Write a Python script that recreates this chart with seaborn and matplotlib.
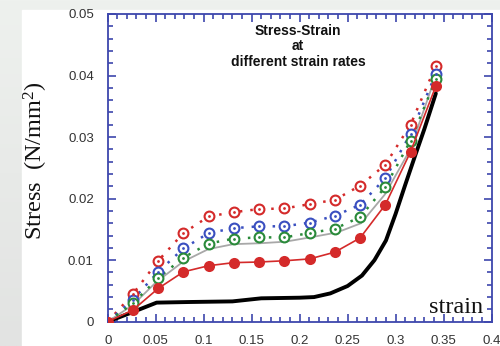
import numpy as np
import pandas as pd
import matplotlib
matplotlib.use("Agg")
import matplotlib.pyplot as plt
from matplotlib.patches import Rectangle
from matplotlib.ticker import MultipleLocator
import seaborn as sns

# Strain positions of the sampled points
strain = [0.0, 0.0263, 0.0526, 0.0789, 0.1052, 0.1315, 0.1578,
          0.1841, 0.2104, 0.2367, 0.263, 0.2893, 0.3156, 0.342]

# Stress (N/mm^2) for the four marked strain-rate series
stress_red_open = [0.0, 0.0045, 0.0099, 0.0144, 0.0171, 0.0178, 0.0183,
                   0.0184, 0.0191, 0.0198, 0.0221, 0.0255, 0.0320, 0.0416]
stress_blue_open = [0.0, 0.0036, 0.0081, 0.0119, 0.0144, 0.0152, 0.0155,
                    0.0155, 0.0161, 0.0172, 0.0190, 0.0233, 0.0305, 0.0403]
stress_green_open = [0.0, 0.0030, 0.0071, 0.0104, 0.0127, 0.0135, 0.0137,
                     0.0137, 0.0144, 0.0151, 0.0170, 0.0219, 0.0294, 0.0394]
stress_red_filled = [0.0, 0.0019, 0.0054, 0.0081, 0.0091, 0.0096, 0.0097,
                     0.0099, 0.0102, 0.0113, 0.0136, 0.0190, 0.0276, 0.0383]

# Unmarked curves
gray_strain = [0.0, 0.026, 0.051, 0.079, 0.105, 0.131, 0.159, 0.185,
               0.211, 0.239, 0.264, 0.289, 0.315, 0.338]
gray_stress = [0.0, 0.0027, 0.0065, 0.0098, 0.0118, 0.0126, 0.01275, 0.0130,
               0.0137, 0.0145, 0.0160, 0.0207, 0.0279, 0.0382]
black_strain = [0.0, 0.025, 0.051, 0.085, 0.13, 0.16, 0.2, 0.215, 0.232,
                0.25, 0.265, 0.278, 0.29, 0.30, 0.31, 0.32, 0.33, 0.342]
black_stress = [0.0, 0.0015, 0.0031, 0.0032, 0.0033, 0.0038, 0.0039, 0.0040,
                0.0046, 0.0058, 0.0075, 0.0100, 0.0132, 0.0175, 0.0222,
                0.0268, 0.0313, 0.0371]

x_ticks = [0, 0.05, 0.1, 0.15, 0.2, 0.25, 0.3, 0.35, 0.4]
x_tick_labels = ["0", "0.05", "0.1", "0.15", "0.2", "0.25", "0.3", "0.35", "0.4"]
y_ticks = [0, 0.01, 0.02, 0.03, 0.04, 0.05]
y_tick_labels = ["0", "0.01", "0.02", "0.03", "0.04", "0.05"]

sns.set_theme(style="white")
plt.rcParams["font.family"] = ["Liberation Sans", "DejaVu Sans"]
plt.rcParams["mathtext.fontset"] = "custom"
plt.rcParams["mathtext.rm"] = "Liberation Serif"
plt.rcParams["mathtext.it"] = "Liberation Serif:italic"

RED = "#d42a2a"
BLUE = "#3a4fc0"
GREEN = "#2a8a3a"
GRAY = "#a8a8a8"
AXIS_BLUE = "#3d47ad"

fig = plt.figure(figsize=(5.0, 3.46), dpi=100)

# Slide-like backdrop: soft gray gradient with a white panel
bg = fig.add_axes([0, 0, 1, 1], zorder=-10)
grad = np.linspace(0, 1, 256)[:, None] * np.ones((1, 2))
bg.imshow(grad, aspect="auto", cmap=matplotlib.colors.LinearSegmentedColormap.from_list(
    "bg", ["#eef1ee", "#e2e3e2"]), extent=[0, 1, 0, 1], origin="upper")
bg.add_patch(Rectangle((22 / 500, 0), 1, 1 - 10 / 346, color="white", zorder=2))
bg.set_xlim(0, 1)
bg.set_ylim(0, 1)
bg.axis("off")

ax = fig.add_axes([107.7 / 500, 1 - 321.7 / 346, 383.8 / 500, 307.7 / 346])
ax.set_facecolor("white")

df = pd.DataFrame({"strain": strain, "red_open": stress_red_open,
                   "blue_open": stress_blue_open, "green_open": stress_green_open,
                   "red_filled": stress_red_filled})
df_gray = pd.DataFrame({"strain": gray_strain, "stress": gray_stress})
df_black = pd.DataFrame({"strain": black_strain, "stress": black_stress})

sns.lineplot(data=df_black, x="strain", y="stress", ax=ax, color="black",
             linewidth=2.8, sort=False, zorder=3)
sns.lineplot(data=df_gray, x="strain", y="stress", ax=ax, color=GRAY,
             linewidth=1.3, sort=False, zorder=3)

dotted = (0, (1.0, 3.2))
for col, color in [("red_open", RED), ("blue_open", BLUE), ("green_open", GREEN)]:
    sns.lineplot(data=df, x="strain", y=col, ax=ax, color=color,
                 linewidth=1.8, linestyle=dotted, sort=False, zorder=4)
    sns.scatterplot(data=df.iloc[1:], x="strain", y=col, ax=ax, marker="o",
                    s=50, facecolor="white", edgecolor=color, linewidth=1.5,
                    zorder=5)
    sns.scatterplot(data=df.iloc[1:], x="strain", y=col, ax=ax, marker="o",
                    s=4, color=color, linewidth=0, zorder=6)

sns.lineplot(data=df, x="strain", y="red_filled", ax=ax, color=RED,
             linewidth=1.2, sort=False, zorder=7)
sns.scatterplot(data=df, x="strain", y="red_filled", ax=ax, marker="o",
                s=64, color=RED, edgecolor=RED, linewidth=0, zorder=8)

ax.set_xlim(0, 0.4)
ax.set_ylim(0, 0.05)
ax.set_xticks(x_ticks)
ax.set_xticklabels(x_tick_labels)
ax.set_yticks(y_ticks)
ax.set_yticklabels(y_tick_labels)
ax.xaxis.set_minor_locator(MultipleLocator(0.01))
ax.yaxis.set_minor_locator(MultipleLocator(0.002))
ax.tick_params(which="both", direction="in", top=True, right=True,
               bottom=True, left=True, color=AXIS_BLUE, width=1.2)
ax.tick_params(which="major", length=6)
ax.tick_params(which="minor", length=3.5)
ax.tick_params(axis="x", which="major", pad=9.5, labelsize=9.5, labelcolor="#333333")
ax.tick_params(axis="y", which="major", pad=10, labelsize=9.5, labelcolor="#333333")
for sp in ax.spines.values():
    sp.set_color(AXIS_BLUE)
    sp.set_linewidth(1.3)
ax.set_xlabel("")
ax.set_ylabel("")

ax.text(0.496, 0.968, "Stress-Strain\nat\ndifferent strain rates",
        transform=ax.transAxes, ha="center", va="top", fontsize=10,
        fontweight="bold", linespacing=1.15, color="#111111",
        family=["Liberation Sans", "DejaVu Sans"])
ax.text(0.978, 0.028, "strain", transform=ax.transAxes, ha="right",
        va="baseline", fontsize=17.5, family=["Liberation Serif", "DejaVu Serif"],
        color="#111111")
fig.text(0.072, 0.535, "Stress  (N/mm$^{2}$)", rotation=90, ha="center",
         va="center", fontsize=17.5, family=["Liberation Serif", "DejaVu Serif"],
         color="#111111")

fig.savefig("out.png", dpi=100, facecolor=fig.get_facecolor())
